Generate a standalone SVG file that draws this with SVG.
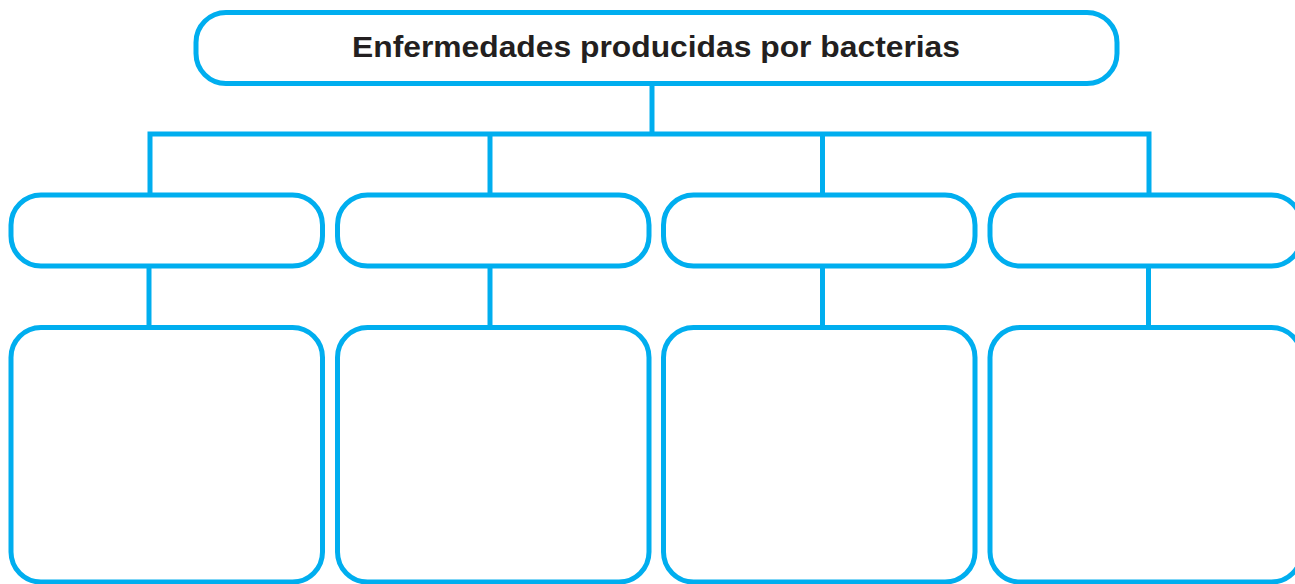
<svg xmlns="http://www.w3.org/2000/svg" width="1295" height="584" viewBox="0 0 1295 584">
  <style>
    .box { fill: #ffffff; stroke: #00aeef; stroke-width: 5; }
    .conn { fill: none; stroke: #00aeef; stroke-width: 5; stroke-linecap: butt; stroke-linejoin: miter; }
    .title { font-family: "Liberation Sans", Arial, sans-serif; font-weight: bold; font-size: 29px; fill: #231f20; }
  </style>
  <rect width="1295" height="584" fill="#ffffff"/>
  <g id="connectors">
    <line class="conn" x1="652" y1="84" x2="652" y2="134"/>
    <polyline class="conn" points="150,195 150,134 1149,134 1149,195"/>
    <line class="conn" x1="490" y1="134" x2="490" y2="195"/>
    <line class="conn" x1="822.5" y1="134" x2="822.5" y2="195"/>
    <line class="conn" x1="149" y1="266" x2="149" y2="328"/>
    <line class="conn" x1="490" y1="266" x2="490" y2="328"/>
    <line class="conn" x1="822.5" y1="266" x2="822.5" y2="328"/>
    <line class="conn" x1="1148.5" y1="266" x2="1148.5" y2="328"/>
  </g>
  <g id="root">
    <rect class="box" x="196" y="12.5" width="921" height="71" rx="30" ry="30"/>
    <text class="title" x="352" y="57" textLength="608" lengthAdjust="spacingAndGlyphs">Enfermedades producidas por bacterias</text>
  </g>
  <g id="cat1"><rect class="box" x="11" y="195" width="311.5" height="71" rx="30" ry="30"/></g>
  <g id="cat2"><rect class="box" x="337.5" y="195" width="311.5" height="71" rx="30" ry="30"/></g>
  <g id="cat3"><rect class="box" x="663.5" y="195" width="311.5" height="71" rx="30" ry="30"/></g>
  <g id="cat4"><rect class="box" x="990" y="195" width="311.5" height="71" rx="30" ry="30"/></g>
  <g id="detail1"><rect class="box" x="11" y="327.5" width="311.5" height="254.5" rx="30" ry="30"/></g>
  <g id="detail2"><rect class="box" x="337.5" y="327.5" width="311.5" height="254.5" rx="30" ry="30"/></g>
  <g id="detail3"><rect class="box" x="663.5" y="327.5" width="311.5" height="254.5" rx="30" ry="30"/></g>
  <g id="detail4"><rect class="box" x="990" y="327.5" width="311.5" height="254.5" rx="30" ry="30"/></g>
</svg>
